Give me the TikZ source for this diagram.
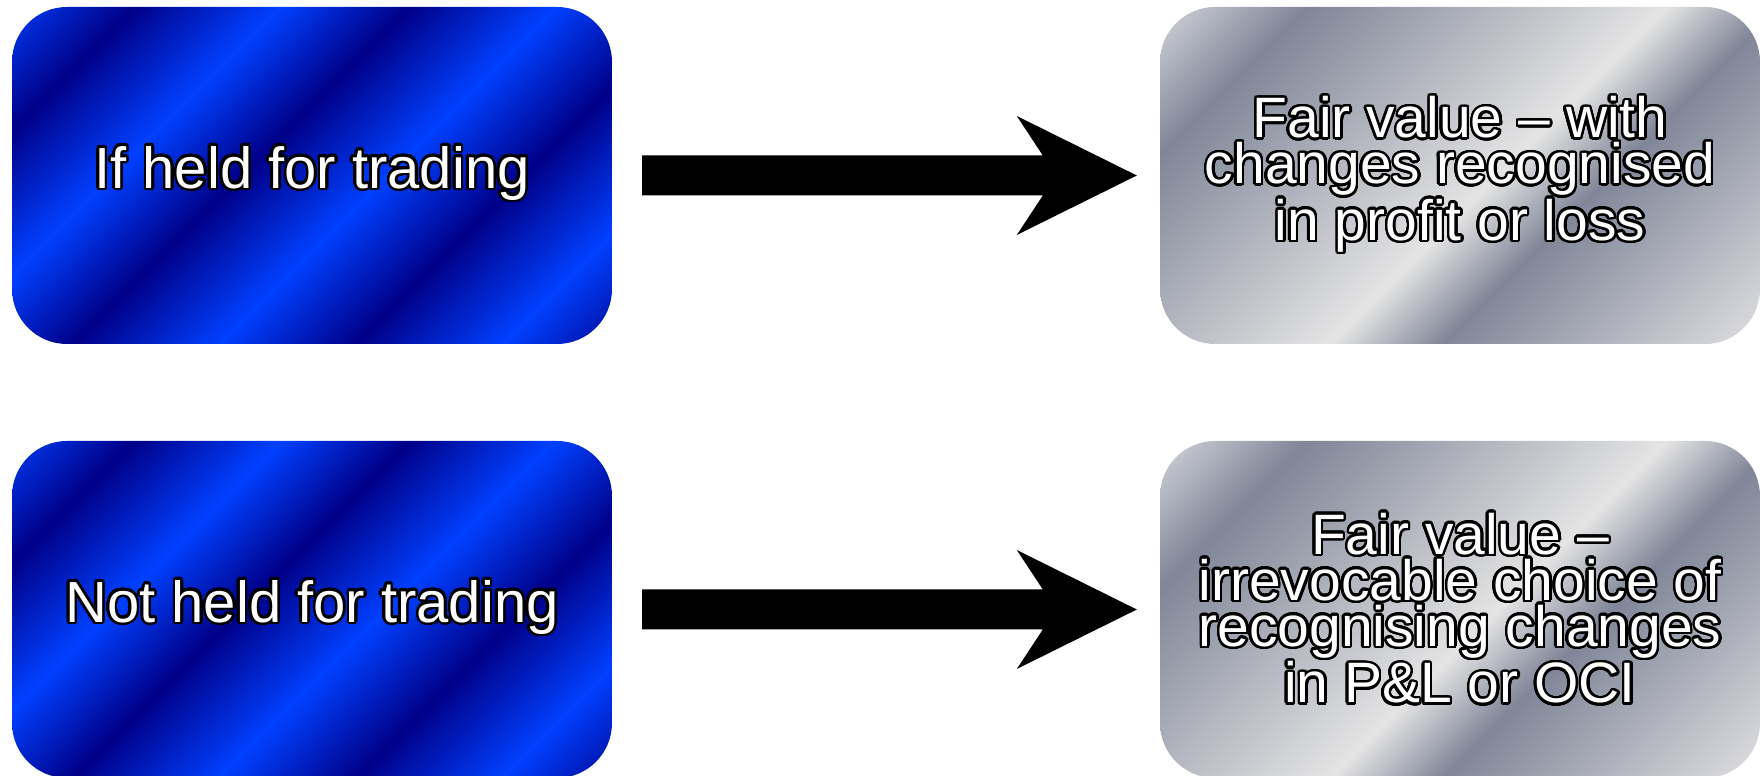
\documentclass[tikz,border=0pt]{standalone}
\usepackage{fontspec}
\setmainfont{Liberation Sans}
\usepackage{contour}
\contourlength{2.5pt}
\contournumber{32}
\usetikzlibrary{calc}
\definecolor{bluedark}{RGB}{0,0,136}
\definecolor{bluebright}{RGB}{0,64,255}
\definecolor{graydark}{RGB}{128,134,152}
\definecolor{graylight}{RGB}{228,228,228}
\definecolor{graystart}{RGB}{210,212,218}
\definecolor{grayend}{RGB}{224,224,226}
\pgfdeclarehorizontalshading{bluestripes}{100bp}{color(0bp)=(bluebright); color(21.63bp)=(bluebright); color(29.46bp)=(bluedark); color(38.13bp)=(bluebright); color(45.79bp)=(bluedark); color(54.45bp)=(bluebright); color(62.58bp)=(bluedark); color(71.24bp)=(bluebright); color(79.26bp)=(bluedark); color(100bp)=(bluedark)}
\pgfdeclarehorizontalshading{graystripes}{100bp}{color(0bp)=(graystart); color(22.39bp)=(graystart); color(30.94bp)=(graydark); color(52.27bp)=(graylight); color(58.93bp)=(graydark); color(77.61bp)=(grayend); color(100bp)=(grayend)}
\newcommand{\outl}[1]{\contour{black}{#1}}
\begin{document}
\begin{tikzpicture}[x=1pt,y=1pt,
  box/.style={rounded corners=55pt, minimum width=600pt, minimum height=337pt,
    inner sep=0pt, align=center, text=white, font=\fontsize{57}{46}\selectfont},
  bluebox/.style={box, font=\fontsize{58}{47}\selectfont, text depth=17pt,
    path picture={\shade[sharp corners, shading=bluestripes, shading angle=-45]
    ($(path picture bounding box.center)+(-300,-300)$) rectangle ($(path picture bounding box.center)+(300,300)$);}},
  graybox/.style={box, path picture={\shade[sharp corners, shading=graystripes, shading angle=-45]
    ($(path picture bounding box.center)+(-300,-300)$) rectangle ($(path picture bounding box.center)+(300,300)$);}},
  blockarrow/.style={fill=black}]
\useasboundingbox (0,0) rectangle (1764,776);
\node[bluebox] (L1) at (312,600.5) {\outl{If held for trading}};
\node[graybox] (R1) at (1460,600.5) {\outl{Fair value – with}\\ \outl{changes recognised}\\ \outl{in profit or loss}};
\node[bluebox] (L2) at (312,166.5) {\outl{Not held for trading}};
\node[graybox] (R2) at (1460,166.5) {\outl{Fair value –}\\ \outl{irrevocable choice of}\\ \outl{recognising changes}\\ \outl{in P\&L or OCI}};
\coordinate (A1s) at ([xshift=30pt]L1.east);
\coordinate (A1t) at ([xshift=-23pt]R1.west);
\coordinate (A2s) at ([xshift=30pt]L2.east);
\coordinate (A2t) at ([xshift=-23pt]R2.west);
\fill[blockarrow] ($(A1s)+(0,20)$) -- ($(A1t)+(-94,20)$) -- ($(A1t)+(-120,59.5)$) -- (A1t)
  -- ($(A1t)+(-120,-59.5)$) -- ($(A1t)+(-94,-20)$) -- ($(A1s)+(0,-20)$) -- cycle;
\fill[blockarrow] ($(A2s)+(0,20)$) -- ($(A2t)+(-94,20)$) -- ($(A2t)+(-120,59.5)$) -- (A2t)
  -- ($(A2t)+(-120,-59.5)$) -- ($(A2t)+(-94,-20)$) -- ($(A2s)+(0,-20)$) -- cycle;
\end{tikzpicture}
\end{document}
